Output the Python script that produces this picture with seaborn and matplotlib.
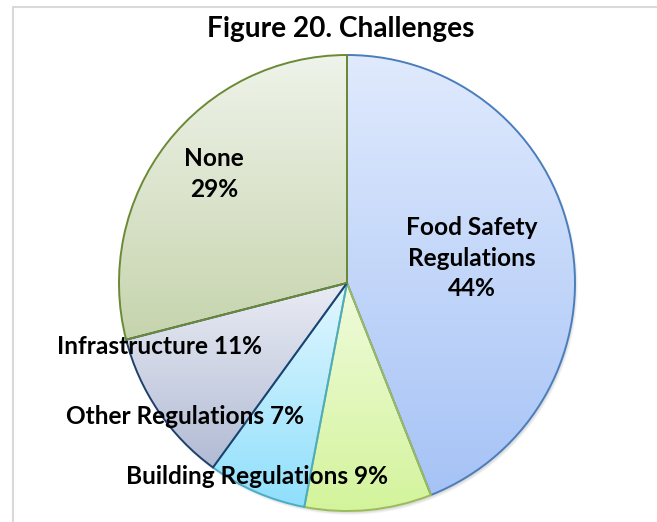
import numpy as np
import matplotlib
matplotlib.use("Agg")
import matplotlib.pyplot as plt
import seaborn as sns
from matplotlib.colors import to_rgb
from matplotlib.patches import Rectangle

# data
categories = ["Food Safety Regulations", "Building Regulations", "Other Regulations",
              "Infrastructure", "None"]
shares = [44, 9, 7, 11, 29]

# styling per slice: gradient top, gradient bottom, edge
grad_top = ["#e0eafd", "#f0fbdc", "#e2f7ff", "#eaecf4", "#eff3ea"]
grad_bot = ["#a6c3f6", "#d3f49b", "#8fdffc", "#b1bbd4", "#c6d4ad"]
edges = ["#4a7ebb", "#9bbb59", "#4bacc6", "#1f3f6d", "#6a8a35"]

# label placement (pixel centre) and how name/percent are joined
label_pos = [(472, 258), (257, 477), (185, 417), (160, 347), (214, 174)]
label_sep = ["\n", " ", " ", " ", "\n"]
label_name = ["Food Safety\nRegulations", "Building Regulations", "Other Regulations",
              "Infrastructure", "None"]

W, H = 657, 522
sns.set_theme(style="white")
plt.rcParams["font.family"] = ["Lato", "DejaVu Sans"]

fig = plt.figure(figsize=(W / 100, H / 100), dpi=100)
ax = fig.add_axes([0, 0, 1, 1])

cx, cy, r = 347, H - 283, 228
wedges, _ = ax.pie(shares, startangle=90, counterclock=False, center=(cx, cy),
                   radius=r, wedgeprops=dict(linewidth=1.4))
ax.set_xlim(0, W)
ax.set_ylim(0, H)
ax.axis("off")

# soft shadow under the pie
for k in range(6):
    sh = plt.Circle((cx + 2, cy - 3), r + 1 - k * 0.5, color="black",
                    alpha=0.025, zorder=0, lw=0)
    ax.add_patch(sh)

for w, t, b, e in zip(wedges, grad_top, grad_bot, edges):
    v = w.get_path().vertices
    x0, x1 = v[:, 0].min(), v[:, 0].max()
    y0, y1 = v[:, 1].min(), v[:, 1].max()
    frac = np.linspace(0, 1, 256)[:, None]
    img = (1 - frac) * np.array(to_rgb(b)) + frac * np.array(to_rgb(t))
    im = ax.imshow(img[:, None, :], extent=(x0, x1, y0, y1), origin="lower",
                   aspect="auto", zorder=1, interpolation="bilinear")
    im.set_clip_path(w)
    w.set_facecolor("none")
    w.set_edgecolor(e)
    w.set_zorder(2)

for name, sep, pct, (px, py) in zip(label_name, label_sep, shares, label_pos):
    ax.text(px, H - py, f"{name}{sep}{pct}%", ha="center", va="center",
            fontsize=17.6, fontweight="bold", color="black", zorder=5,
            linespacing=1.38, multialignment="center")

fig.text(341 / W, 1 - 29 / H, "Figure 20. Challenges", ha="center", va="center",
         fontsize=20.2, fontweight="bold", color="black")

fig.patches.append(Rectangle((12.5, -50), 700, H - 6.5 + 50, transform=None,
                             fill=False, edgecolor="#d9d9d9", lw=1.5))

fig.savefig("out.png", dpi=100)
